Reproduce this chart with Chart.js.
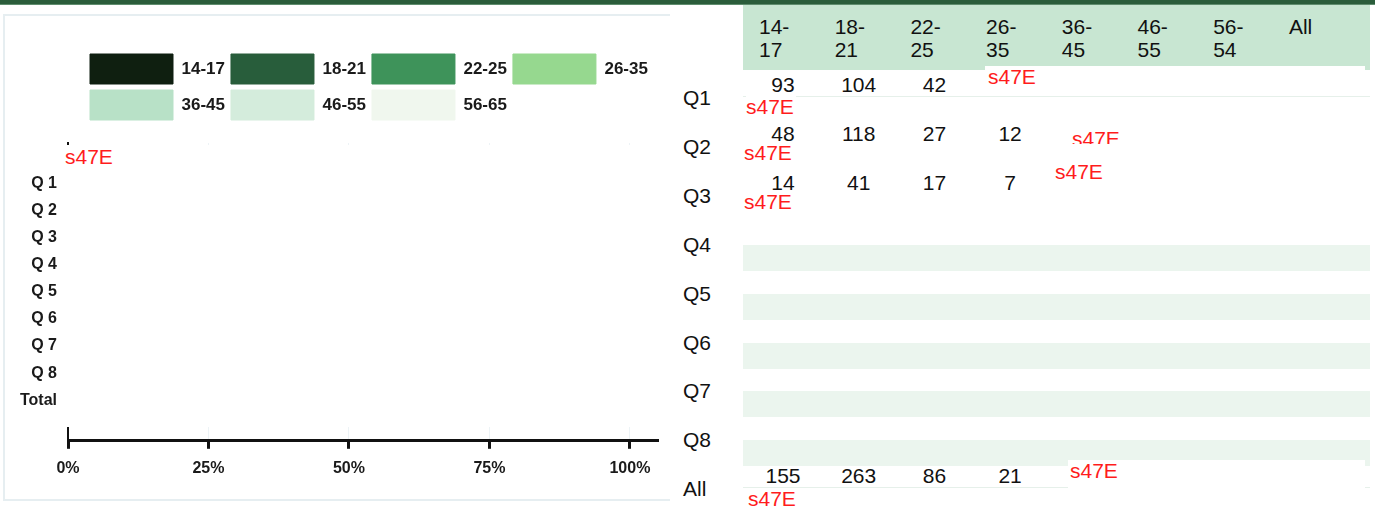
<!DOCTYPE html>
<html>
<head>
<meta charset="utf-8">
<script src="https://cdn.jsdelivr.net/npm/chart.js"></script>
<style>
  body { margin:0; width:1375px; height:506px; overflow:hidden; background:#fff; position:relative;
         font-family:"Liberation Sans", Arial, sans-serif; }
  #topband { position:absolute; left:0; top:0; width:1375px; height:4px; background:#2b5d3b; border-bottom:1px solid #5f8d6e; }
  #panel { position:absolute; left:3px; top:14px; width:667px; height:487px; border:2px solid #e6eef1; border-right:none; box-sizing:border-box; }
  #chartbox { position:absolute; left:5px; top:16px; width:662px; height:482px; }
  .redact { position:absolute; background:#fff; color:#ff1c1c; font-size:21px; line-height:1; white-space:nowrap; overflow:hidden; }
  #head { position:absolute; left:743px; top:5px; width:627px; height:65px; background:#c8e6d2; }
  .hcell { position:absolute; top:15px; font-size:21px; line-height:23px; color:#111; white-space:pre; }
  .rlab { position:absolute; left:683px; font-size:21px; line-height:1; color:#111; }
  .num { position:absolute; width:80px; text-align:center; font-size:21px; line-height:1; color:#111; }
  .stripe { position:absolute; left:743px; width:627px; height:26px; background:#ebf5ee; }
  .rule { position:absolute; left:743px; width:627px; height:1px; background:#e6f0ea; }
</style>
</head>
<body>
<div id="topband"></div>
<div id="panel"></div>
<div id="chartbox"><canvas id="ageChart"></canvas></div>
<div id="head"></div>
<div id="table"></div>

<script>
// age groups shown in the legend
const ageGroups = ['14-17', '18-21', '22-25', '26-35', '36-45', '46-55', '56-65'];
const groupColours = ['#0f1f10', '#285d3b', '#3e935a', '#96d88f', '#b8e1c7', '#d4ecdc', '#f0f7ee'];

// question rows on the chart (blank rows above and below, as in the source)
const questions = ['', 'Q 1', 'Q 2', 'Q 3', 'Q 4', 'Q 5', 'Q 6', 'Q 7', 'Q 8', 'Total', ''];
const xTicks = [0, 0.25, 0.5, 0.75, 1];

// shares per age group - the bars are redacted (s47E) in the source, so nothing is drawn
const share1417 = [];
const share1821 = [];
const share2225 = [];
const share2635 = [];
const share3645 = [];
const share4655 = [];
const share5665 = [];
const shares = [share1417, share1821, share2225, share2635, share3645, share4655, share5665];

// table next to the chart
const tableCols = ['14-\n17', '18-\n21', '22-\n25', '26-\n35', '36-\n45', '46-\n55', '56-\n54', 'All'];
const tableRows = ['Q1', 'Q2', 'Q3', 'Q4', 'Q5', 'Q6', 'Q7', 'Q8', 'All'];
const countsQ1 = [93, 104, 42];
const countsQ2 = [48, 118, 27, 12];
const countsQ3 = [14, 41, 17, 7];
const countsAll = [155, 263, 86, 21];
const tableCounts = [countsQ1, countsQ2, countsQ3, [], [], [], [], [], countsAll];

//put the legend where it sits in the source, above the plot
const legendSpot = {
    id: 'legendSpot',
    afterLayout(chart) {
        let lg = chart.legend;
        let dx = 79 - lg.left;
        let dy = 32 - lg.top;
        lg.left += dx; lg.right += dx;
        lg.top += dy; lg.bottom += dy;
    }
};

let age_ctx = document.getElementById('ageChart');

let age_chart = new Chart(age_ctx, {
    type: 'bar',
    data: {
        labels: questions,
        datasets: ageGroups.map((g, i) => ({
            label: g,
            data: shares[i],
            backgroundColor: groupColours[i],
            borderColor: groupColours[i],
            borderWidth: 1
        }))
    },
    options: {
        indexAxis: 'y',
        responsive: true,
        maintainAspectRatio: false,
        animation: false,
        layout: { padding: { left: 15, right: 9, top: 45, bottom: 10 } },
        plugins: {
            legend: {
                position: 'top',
                align: 'start',
                labels: {
                    boxWidth: 83,
                    boxHeight: 30,
                    padding: 6,
                    color: '#1a1a1a',
                    font: { family: 'Liberation Sans', size: 17, weight: 'bold' }
                }
            },
            tooltip: { enabled: false }
        },
        scales: {
            x: {
                stacked: true,
                min: 0,
                max: 1.05,
                afterBuildTicks: axis => { axis.ticks = xTicks.map(v => ({ value: v })); },
                ticks: {
                    callback: v => Math.round(v * 100) + '%',
                    color: '#1a1a1a',
                    padding: 10,
                    maxRotation: 0,
                    font: { family: 'Liberation Sans', size: 16, weight: 'bold' }
                },
                grid: { color: '#edf3f6', tickColor: '#111', tickWidth: 3, tickLength: 8 },
                border: { color: '#111', width: 3 }
            },
            y: {
                stacked: true,
                afterFit: axis => { axis.width = 48; },
                ticks: {
                    color: '#1a1a1a',
                    padding: 3,
                    font: { family: 'Liberation Sans', size: 16, weight: 'bold' }
                },
                grid: { display: false },
                border: { display: true, color: '#111', width: 2 }
            }
        }
    },
    plugins: [legendSpot]
});

//build the table on the right
let table = document.getElementById('table');
let colLeft = i => 743 + 75.7 * i;
let rowCentre = i => 97 + 48.9 * i;

tableCols.forEach((c, i) => {
    let d = document.createElement('div');
    d.className = 'hcell';
    d.style.left = (colLeft(i) + 16) + 'px';
    d.textContent = c;
    table.appendChild(d);
});

tableRows.forEach((r, i) => {
    let y = rowCentre(i);
    if (i >= 3 && i <= 7) {
        let s = document.createElement('div');
        s.className = 'stripe';
        s.style.top = (y + 1) + 'px';
        table.appendChild(s);
    } else if (i === 0 || i === 8) {
        let line = document.createElement('div');
        line.className = 'rule';
        line.style.top = (y - 1) + 'px';
        table.appendChild(line);
    }
    let lab = document.createElement('div');
    lab.className = 'rlab';
    lab.style.top = (y - 10) + 'px';
    lab.textContent = r;
    table.appendChild(lab);

    tableCounts[i].forEach((v, j) => {
        let n = document.createElement('div');
        n.className = 'num';
        n.style.left = (colLeft(j)) + 'px';
        n.style.top = (y - 23) + 'px';
        n.textContent = v;
        table.appendChild(n);
    });
});

//redaction marks (s47E) laid over the page
let redactions = [
    { x: 62, y: 145, w: 600, h: 282, px: 3, py: 1 },
    { x: 985, y: 66, w: 380, h: 29, px: 3, py: 0 },
    { x: 746, y: 96, w: 50, h: 20, px: 0, py: 0 },
    { x: 744, y: 142, w: 50, h: 20, px: 0, py: 0 },
    { x: 1072, y: 128, w: 50, h: 16, px: 0, py: 0 },
    { x: 1055, y: 161, w: 50, h: 20, px: 0, py: 0 },
    { x: 744, y: 191, w: 50, h: 20, px: 0, py: 0 },
    { x: 1068, y: 460, w: 297, h: 28, px: 2, py: 0 },
    { x: 748, y: 488, w: 50, h: 20, px: 0, py: 0 }
];
redactions.forEach(r => {
    let d = document.createElement('div');
    d.className = 'redact';
    d.style.left = r.x + 'px';
    d.style.top = r.y + 'px';
    d.style.width = r.w + 'px';
    d.style.height = r.h + 'px';
    d.style.padding = r.py + 'px 0 0 ' + r.px + 'px';
    d.style.boxSizing = 'border-box';
    d.textContent = 's47E';
    document.body.appendChild(d);
});
</script>
</body>
</html>
